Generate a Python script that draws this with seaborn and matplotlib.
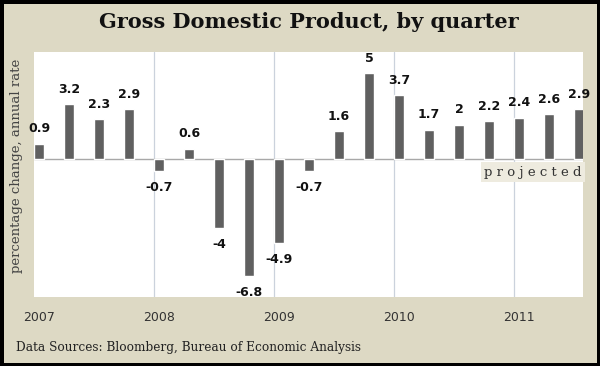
import matplotlib
matplotlib.use("Agg")
import matplotlib.pyplot as plt
import seaborn as sns
import pandas as pd

# quarterly GDP growth, annual rate (2010Q3 onward projected)
quarters = ['2007Q1', '2007Q2', '2007Q3', '2007Q4',
            '2008Q1', '2008Q2', '2008Q3', '2008Q4',
            '2009Q1', '2009Q2', '2009Q3', '2009Q4',
            '2010Q1', '2010Q2', '2010Q3', '2010Q4',
            '2011Q1', '2011Q2', '2011Q3']
growth = [0.9, 3.2, 2.3, 2.9,
          -0.7, 0.6, -4, -6.8,
          -4.9, -0.7, 1.6, 5,
          3.7, 1.7, 2, 2.2,
          2.4, 2.6, 2.9]
year_labels = ['2007', '2008', '2009', '2010', '2011']

df = pd.DataFrame({'quarter': quarters, 'growth': growth})

beige = '#DDD9C4'
bar_color = '#606060'

sns.set_style('white')
fig = plt.figure(figsize=(6, 3.66), dpi=100)
fig.patch.set_facecolor(beige)
ax = fig.add_axes([34 / 600, 1 - 297 / 366, 549 / 600, 245 / 366])
ax.set_facecolor('white')

bw = 1 / 3
sns.barplot(data=df, x='quarter', y='growth', color=bar_color, width=bw,
            saturation=1, ax=ax, zorder=3)

ax.set_xlim(-bw / 2, -bw / 2 + 18.3)
ax.set_ylim(-8.02, 6.22)

# year separators and zero line
for k in range(1, 5):
    ax.axvline(4 * k - bw / 2, color='#CBD2DC', lw=0.9, zorder=1)
ax.axhline(0, color='#A8A8A8', lw=1, zorder=2)

# value labels
for i, v in enumerate(growth):
    txt = f'{v:g}'
    if v >= 0:
        ax.annotate(txt, (i, v), xytext=(0, 6), textcoords='offset points',
                    ha='center', va='bottom', fontsize=9, fontweight='bold',
                    color='#111111', zorder=4)
    else:
        ax.annotate(txt, (i, v), xytext=(0, -7), textcoords='offset points',
                    ha='center', va='top', fontsize=9, fontweight='bold',
                    color='#111111', zorder=4)

ax.text(0.998, -0.76, 'p r o j e c t e d', transform=ax.get_yaxis_transform(),
        ha='right', va='center', fontsize=9.5, family='DejaVu Serif',
        color='#333333', zorder=5,
        bbox=dict(boxstyle='square,pad=0.25', fc='#EEEBDF', ec='none'))

for s in ax.spines.values():
    s.set_visible(False)
ax.set_yticks([])
ax.set_xticks([0, 4, 8, 12, 16])
ax.set_xticklabels(year_labels, fontsize=9, color='#333333')
ax.tick_params(axis='x', length=0, pad=10)
ax.set_xlabel('')
ax.set_ylabel('')

fig.text(17 / 600, 1 - 166 / 366, 'percentage change, annual rate',
         rotation=90, ha='center', va='center', fontsize=9.5,
         family='DejaVu Serif', color='#444444')

fig.text(0.515, 1 - 22 / 366, 'Gross Domestic Product, by quarter',
         ha='center', va='center', fontsize=15, fontweight='bold',
         family='DejaVu Serif', color='#111111')

fig.text(16 / 600, 1 - 348 / 366, 'Data Sources: Bloomberg, Bureau of Economic Analysis',
         ha='left', va='center', fontsize=8.7, family='DejaVu Serif', color='#222222')

fig.patch.set_edgecolor('black')
fig.patch.set_linewidth(5)

fig.savefig('out.png', dpi=100, facecolor=fig.get_facecolor(),
            edgecolor=fig.get_edgecolor())
